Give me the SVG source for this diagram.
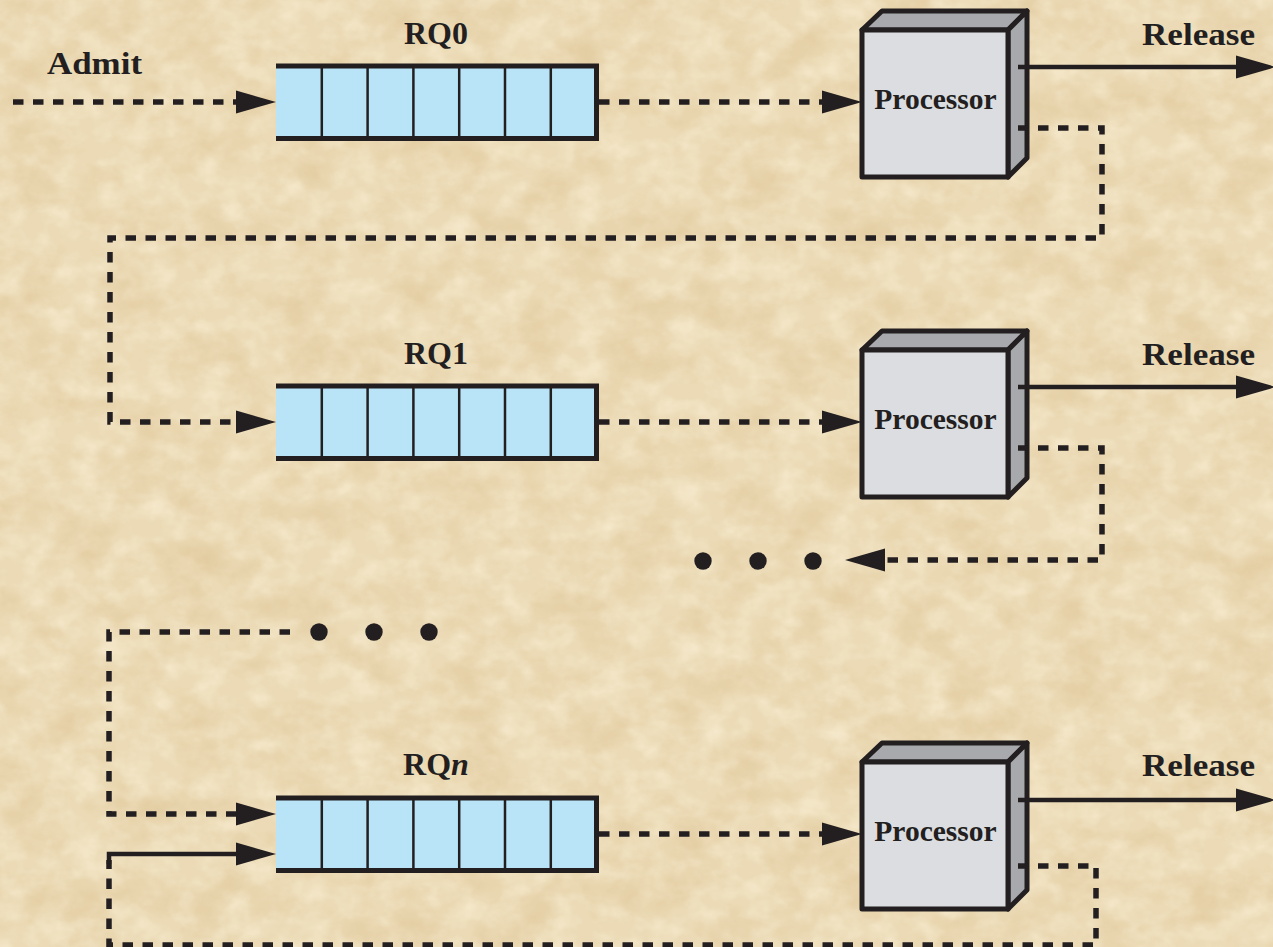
<svg xmlns="http://www.w3.org/2000/svg" width="1273" height="947" viewBox="0 0 1273 947">
<style>
.lbl{font-family:"Liberation Serif","Times New Roman",serif;font-weight:bold;fill:#231f20}
.big{font-size:32px}
.proc{font-size:29.5px}
.qfill{fill:#b9e4f8;stroke:none}
.qedge{stroke:#231f20;stroke-width:5;fill:none}
.qdiv{stroke:#231f20;stroke-width:2.5;fill:none}
.face{fill:#dcdde0;stroke:#231f20;stroke-width:5;stroke-linejoin:round}
.side{fill:#a7a9ac;stroke:#231f20;stroke-width:5;stroke-linejoin:round}
.dash{fill:none;stroke:#231f20;stroke-width:5.5;stroke-dasharray:10.5 9.5}
.solid{fill:none;stroke:#231f20;stroke-width:4.5}
.dot{fill:#231f20}
</style>
<defs>
<filter id="parch" x="0" y="0" width="100%" height="100%" color-interpolation-filters="sRGB">
<feTurbulence type="fractalNoise" baseFrequency="0.018 0.024" numOctaves="5" seed="7"/>
<feColorMatrix type="matrix" values="0 0 0 0 0.86  0 0 0 0 0.75  0 0 0 0 0.56  1.1 0 0 0 -0.47"/>
</filter>
<filter id="parch2" x="0" y="0" width="100%" height="100%" color-interpolation-filters="sRGB">
<feTurbulence type="fractalNoise" baseFrequency="0.04 0.05" numOctaves="3" seed="19"/>
<feColorMatrix type="matrix" values="0 0 0 0 0.98  0 0 0 0 0.94  0 0 0 0 0.84  1.3 0 0 0 -0.5"/>
</filter>
<marker id="ah" markerUnits="userSpaceOnUse" markerWidth="40" markerHeight="23" refX="0" refY="11.5" orient="auto" overflow="visible">
<path d="M0,0 L40,11.5 L0,23 Z" fill="#231f20"/>
</marker>
<g id="qcells">
<rect class="qfill" x="276" y="66" width="321" height="72.5"/>
<path class="qdiv" d="M321.8,66V138.5M367.6,66V138.5M413.4,66V138.5M459.2,66V138.5M505,66V138.5M550.8,66V138.5"/>
<path class="qedge" d="M276,66H599M276,138.5H599M596.5,63.5V141"/>
</g>
<g id="pbox">
<polygon class="side" points="862,30 882,11 1027,11 1008,30"/>
<polygon class="side" points="1008,30 1027,11 1027,158 1008,177"/>
<rect class="face" x="862" y="30" width="146" height="147"/>
<text class="lbl proc" x="935.5" y="109" text-anchor="middle">Processor</text>
</g>
</defs>
<rect width="1273" height="947" fill="#ebdab5"/>
<rect width="1273" height="947" filter="url(#parch2)"/>
<rect width="1273" height="947" filter="url(#parch)"/>

<g id="rq0">
<use href="#qcells"/>
<text class="lbl big" x="436" y="44" text-anchor="middle">RQ0</text>
</g>
<g id="rq1">
<use href="#qcells" transform="translate(0,320)"/>
<text class="lbl big" x="436" y="364" text-anchor="middle">RQ1</text>
</g>
<g id="rqn">
<use href="#qcells" transform="translate(0,732)"/>
<text class="lbl big" x="436" y="775" text-anchor="middle">RQ<tspan font-style="italic">n</tspan></text>
</g>
<g id="proc0"><use href="#pbox"/></g>
<g id="proc1"><use href="#pbox" transform="translate(0,320)"/></g>
<g id="procn"><use href="#pbox" transform="translate(0,732)"/></g>

<g id="labels">
<text class="lbl big" x="47" y="74" textLength="95" lengthAdjust="spacingAndGlyphs">Admit</text>
<text class="lbl big" x="1142" y="45" textLength="113" lengthAdjust="spacingAndGlyphs">Release</text>
<text class="lbl big" x="1142" y="365" textLength="113" lengthAdjust="spacingAndGlyphs">Release</text>
<text class="lbl big" x="1142" y="776" textLength="113" lengthAdjust="spacingAndGlyphs">Release</text>
</g>

<g id="connectors">
<path class="dash" d="M13,102H236" marker-end="url(#ah)"/>
<path class="dash" d="M599,102H822" marker-end="url(#ah)"/>
<path class="dash" d="M599,422H822" marker-end="url(#ah)"/>
<path class="dash" d="M599,834H822" marker-end="url(#ah)"/>
<path class="solid" d="M1018,67H1236" marker-end="url(#ah)"/>
<path class="solid" d="M1018,387H1236" marker-end="url(#ah)"/>
<path class="solid" d="M1018,800H1236" marker-end="url(#ah)"/>
<path class="dash" d="M1018,128H1102V238H110V422H236" marker-end="url(#ah)"/>
<path class="dash" d="M1018,448H1102V560H885" marker-end="url(#ah)"/>
<path class="dash" d="M290,632H109V814H236" marker-end="url(#ah)"/>
<path class="dash" d="M1018,866H1096V945H109V860"/>
<path class="solid" d="M109,864V854H236" marker-end="url(#ah)"/>
<circle class="dot" cx="703" cy="561" r="8.7"/>
<circle class="dot" cx="758" cy="561" r="8.7"/>
<circle class="dot" cx="813" cy="561" r="8.7"/>
<circle class="dot" cx="319" cy="632" r="8.7"/>
<circle class="dot" cx="374" cy="632" r="8.7"/>
<circle class="dot" cx="429" cy="632" r="8.7"/>
</g>
</svg>
